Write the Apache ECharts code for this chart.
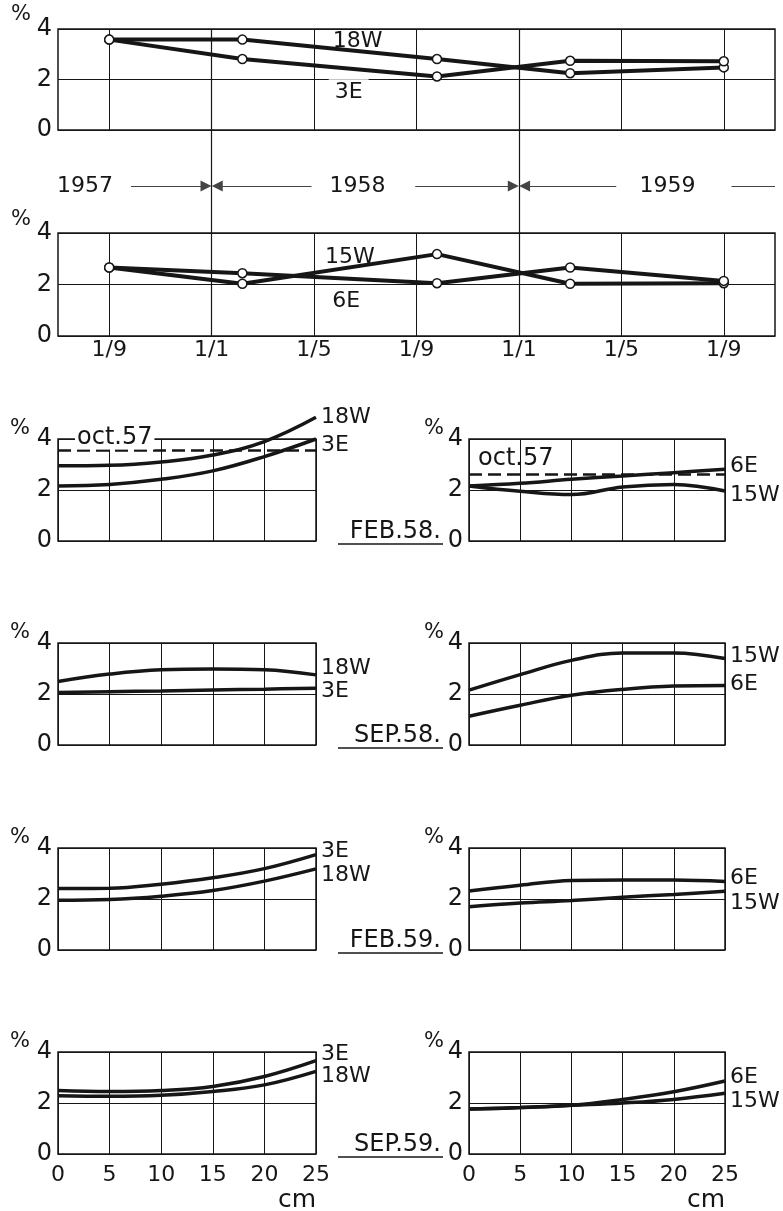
<!DOCTYPE html>
<html>
<head>
<meta charset="utf-8">
<script src="https://cdn.jsdelivr.net/npm/echarts@6/dist/echarts.min.js"></script>
<style>
  html, body { margin: 0; padding: 0; background: #fff; }
  #main { width: 783px; height: 1211px; }
</style>
</head>
<body>
<div id="main"></div>
<script>
// months counted from 1 jan 1957
var monthTicks = [8, 12, 16, 20, 24, 28, 32];
var monthLabels = ['1/9', '1/1', '1/5', '1/9', '1/1', '1/5', '1/9'];
var sampleMonths = [8, 13.2, 20.8, 26.0, 32];
var years = ['1957', '1958', '1959'];

// mean content, upper plot (18W / 3E)
var w18 = [3.58, 3.58, 2.81, 2.25, 2.48];
var e3 = [3.58, 2.81, 2.12, 2.74, 2.72];
// mean content, lower plot (15W / 6E)
var w15 = [2.66, 2.03, 3.18, 2.03, 2.05];
var e6 = [2.66, 2.44, 2.05, 2.66, 2.14];

// profiles against depth (cm)
var depth = [0, 5, 10, 15, 20, 25];
var panelNames = ['FEB.58.', 'SEP.58.', 'FEB.59.', 'SEP.59.'];
var oct57 = [3.55, 2.62];

var feb58_18W = [2.95, 2.97, 3.10, 3.37, 3.90, 4.85];
var feb58_3E = [2.16, 2.22, 2.42, 2.75, 3.31, 4.00];
var feb58_6E = [2.16, 2.26, 2.42, 2.55, 2.68, 2.81];
var feb58_15W = [2.16, 1.95, 1.82, 2.12, 2.22, 1.96];

var sep58_18W = [2.49, 2.78, 2.95, 2.98, 2.95, 2.75];
var sep58_3E = [2.06, 2.09, 2.12, 2.16, 2.19, 2.23];
var sep58_15W = [2.15, 2.76, 3.32, 3.61, 3.61, 3.39];
var sep58_6E = [1.13, 1.56, 1.95, 2.18, 2.31, 2.33];

var feb59_3E = [2.41, 2.42, 2.58, 2.83, 3.19, 3.74];
var feb59_18W = [1.95, 1.98, 2.11, 2.33, 2.70, 3.18];
var feb59_6E = [2.31, 2.54, 2.73, 2.75, 2.75, 2.69];
var feb59_15W = [1.70, 1.84, 1.94, 2.07, 2.18, 2.30];

var sep59_3E = [2.49, 2.45, 2.49, 2.65, 3.04, 3.66];
var sep59_18W = [2.28, 2.26, 2.30, 2.45, 2.71, 3.24];
var sep59_6E = [1.76, 1.82, 1.91, 2.14, 2.44, 2.86];
var sep59_15W = [1.76, 1.82, 1.91, 2.00, 2.14, 2.38];

var FONT = "'DejaVu Sans', sans-serif";
var INK = '#161616';

var grids = [], xAxes = [], yAxes = [], series = [], graphics = [];

function addGrid(left, top, width, height, border) {
  grids.push({
    left: left, top: top, width: width, height: height,
    outerBoundsMode: 'none', containLabel: false,
    show: border, borderColor: INK, borderWidth: border ? 1.5 : 0,
    backgroundColor: 'transparent'
  });
  return grids.length - 1;
}

function timeX(g, showLabels) {
  return {
    gridIndex: g, type: 'value', min: 6, max: 34,
    axisLine: { show: false },
    axisTick: { show: false, customValues: monthTicks },
    axisLabel: {
      show: showLabels, customValues: monthTicks, margin: 3, fontSize: 22, color: INK,
      formatter: function (v) { return monthLabels[monthTicks.indexOf(v)]; }
    },
    splitLine: { show: true, lineStyle: { color: INK, width: 1 } }
  };
}

function hiddenX(g) {
  return { gridIndex: g, type: 'value', min: 6, max: 34, show: false, splitLine: { show: false } };
}
function hiddenY(g) {
  return { gridIndex: g, type: 'value', min: 0, max: 1, show: false, splitLine: { show: false } };
}

function pctY(g, gap, padRight) {
  return {
    gridIndex: g, type: 'value', min: 0, max: 4, interval: 2,
    axisLine: { show: false }, axisTick: { show: false },
    axisLabel: { margin: 6, fontSize: 24, color: INK },
    splitLine: { show: true, lineStyle: { color: INK, width: 1 } },
    name: '%', nameLocation: 'end', nameGap: gap, nameMoveOverlap: false,
    nameTextStyle: { fontSize: 21, color: INK, align: 'right', verticalAlign: 'bottom', padding: [0, padRight, 0, 0] }
  };
}

function timeSeries(g, name, vals, tag, bg) {
  return {
    type: 'line', name: name, xAxisIndex: g, yAxisIndex: g,
    data: sampleMonths.map(function (m, i) { return [m, vals[i]]; }),
    symbol: 'circle', symbolSize: 9,
    lineStyle: { color: INK, width: 4 },
    itemStyle: { color: '#fff', borderColor: INK, borderWidth: 1.5 },
    markPoint: {
      silent: true, symbol: 'circle', symbolSize: 1, itemStyle: { color: 'rgba(0,0,0,0)' },
      label: {
        show: true, position: 'inside', formatter: name, fontSize: 22, color: INK,
        backgroundColor: bg ? '#fff' : 'transparent', padding: [4, 6, 0, 6]
      },
      data: [{ coord: tag }]
    }
  };
}

function depthSeries(g, name, vals, dy) {
  return {
    type: 'line', name: name, xAxisIndex: g, yAxisIndex: g,
    data: depth.map(function (d, i) { return [d, vals[i]]; }),
    smooth: 0.4, symbol: 'none', clip: false,
    lineStyle: { color: INK, width: 3.5 },
    endLabel: { show: true, formatter: name, offset: [0, dy], distance: 5, fontSize: 22, color: INK }
  };
}

// ---- time plots
var g0 = addGrid(58, 29, 717, 101, true);
xAxes.push(timeX(g0, false));
yAxes.push(pctY(g0, 4, 27));
series.push(timeSeries(g0, '18W', w18, [17.7, 3.5], false));
series.push(timeSeries(g0, '3E', e3, [17.35, 1.5], true));

var g1 = addGrid(58, 233, 717, 103, true);
xAxes.push(timeX(g1, true));
yAxes.push(pctY(g1, 3, 27));
series.push(timeSeries(g1, '15W', w15, [17.4, 3.05], false));
series.push(timeSeries(g1, '6E', e6, [17.25, 1.35], false));

// long 1/1 lines through both time plots
var g2 = addGrid(58, 29, 717, 307, false);
xAxes.push(hiddenX(g2));
yAxes.push(hiddenY(g2));
series.push({
  type: 'line', xAxisIndex: g2, yAxisIndex: g2, data: [],
  markLine: {
    silent: true, symbol: ['none', 'none'], label: { show: false },
    lineStyle: { color: INK, width: 1.2, type: 'solid' },
    data: [{ xAxis: 12 }, { xAxis: 24 }]
  }
});

// year band
var g3 = addGrid(58, 176, 717, 20, false);
xAxes.push(hiddenX(g3));
yAxes.push(hiddenY(g3));
function seg(a, b, sa, sb) {
  return [{ coord: [a, 0.5], symbol: sa }, { coord: [b, 0.5], symbol: sb }];
}
series.push({
  type: 'line', xAxisIndex: g3, yAxisIndex: g3, data: [],
  markLine: {
    silent: true, symbolSize: 11, label: { show: false },
    lineStyle: { color: '#444', width: 1, type: 'solid' },
    itemStyle: { color: INK },
    data: [
      seg(8.85, 11.78, 'none', 'triangle'),
      seg(12.22, 15.9, 'triangle', 'none'),
      seg(19.95, 23.78, 'none', 'triangle'),
      seg(24.22, 27.8, 'triangle', 'none'),
      seg(32.3, 34, 'none', 'none')
    ]
  },
  markPoint: {
    silent: true, symbol: 'circle', symbolSize: 1, itemStyle: { color: 'rgba(0,0,0,0)' },
    label: { show: true, position: 'inside', formatter: '{b}', fontSize: 22, color: INK },
    data: [
      { name: years[0], coord: [7.05, 0.5] },
      { name: years[1], coord: [17.7, 0.5] },
      { name: years[2], coord: [29.8, 0.5] }
    ]
  }
});

// ---- depth panels
var panelTops = [439, 643, 848, 1052];
var PH = 102;
var leftPanels = [
  [['18W', feb58_18W, 0], ['3E', feb58_3E, 6]],
  [['18W', sep58_18W, -7], ['3E', sep58_3E, 3]],
  [['3E', feb59_3E, -3], ['18W', feb59_18W, 6]],
  [['3E', sep59_3E, -6], ['18W', sep59_18W, 5]]
];
var rightPanels = [
  [['6E', feb58_6E, -3], ['15W', feb58_15W, 4]],
  [['15W', sep58_15W, -2], ['6E', sep58_6E, -1]],
  [['6E', feb59_6E, -3], ['15W', feb59_15W, 12]],
  [['6E', sep59_6E, -4], ['15W', sep59_15W, 8]]
];

function depthX(g, last) {
  return {
    gridIndex: g, type: 'value', min: 0, max: 25, interval: 5,
    axisLine: { show: false }, axisTick: { show: false },
    axisLabel: { show: last, margin: 10, fontSize: 22, color: INK },
    splitLine: { show: true, lineStyle: { color: INK, width: 1 } },
    name: last ? 'cm' : '', nameLocation: 'end', nameGap: 0, nameMoveOverlap: false,
    nameTextStyle: { fontSize: 25, color: INK, align: 'right', verticalAlign: 'top', padding: [34, 0, 0, 0] }
  };
}

function octLine(value, dist, bg) {
  return {
    silent: true, symbol: ['none', 'none'],
    lineStyle: { color: INK, width: 2.5, type: [13, 6] },
    label: {
      show: true, position: 'insideStartTop', formatter: 'oct.57', distance: dist,
      fontSize: 24, color: INK, backgroundColor: bg, padding: [0, 2, 0, 2]
    },
    data: [{ yAxis: value }]
  };
}

panelTops.forEach(function (top, i) {
  var last = i === panelTops.length - 1;
  var sides = [[58, 258, leftPanels[i], 28], [469, 256, rightPanels[i], 25]];
  sides.forEach(function (s, k) {
    var g = addGrid(s[0], top, s[1], PH, true);
    xAxes.push(depthX(g, last));
    yAxes.push(pctY(g, 0, s[3]));
    s[2].forEach(function (p, j) {
      var ser = depthSeries(g, p[0], p[1], p[2]);
      if (i === 0 && j === 0) {
        ser.markLine = k === 0 ? octLine(oct57[0], [17, 1], '#fff') : octLine(oct57[1], [7, 3], 'transparent');
      }
      series.push(ser);
    });
  });
  var bottom = top + PH;
  graphics.push({
    type: 'text', x: 441, y: bottom + 3,
    style: { text: panelNames[i], font: '24px ' + FONT, fill: INK, align: 'right', verticalAlign: 'bottom' }
  });
  graphics.push({
    type: 'line', shape: { x1: 338, y1: bottom + 3, x2: 443, y2: bottom + 3 },
    style: { stroke: INK, lineWidth: 1.5 }
  });
});

var chart = echarts.init(document.getElementById('main'));
chart.setOption({
  animation: false,
  backgroundColor: '#fff',
  textStyle: { fontFamily: FONT, color: INK },
  grid: grids,
  xAxis: xAxes,
  yAxis: yAxes,
  series: series,
  graphic: graphics
});
</script>
</body>
</html>
